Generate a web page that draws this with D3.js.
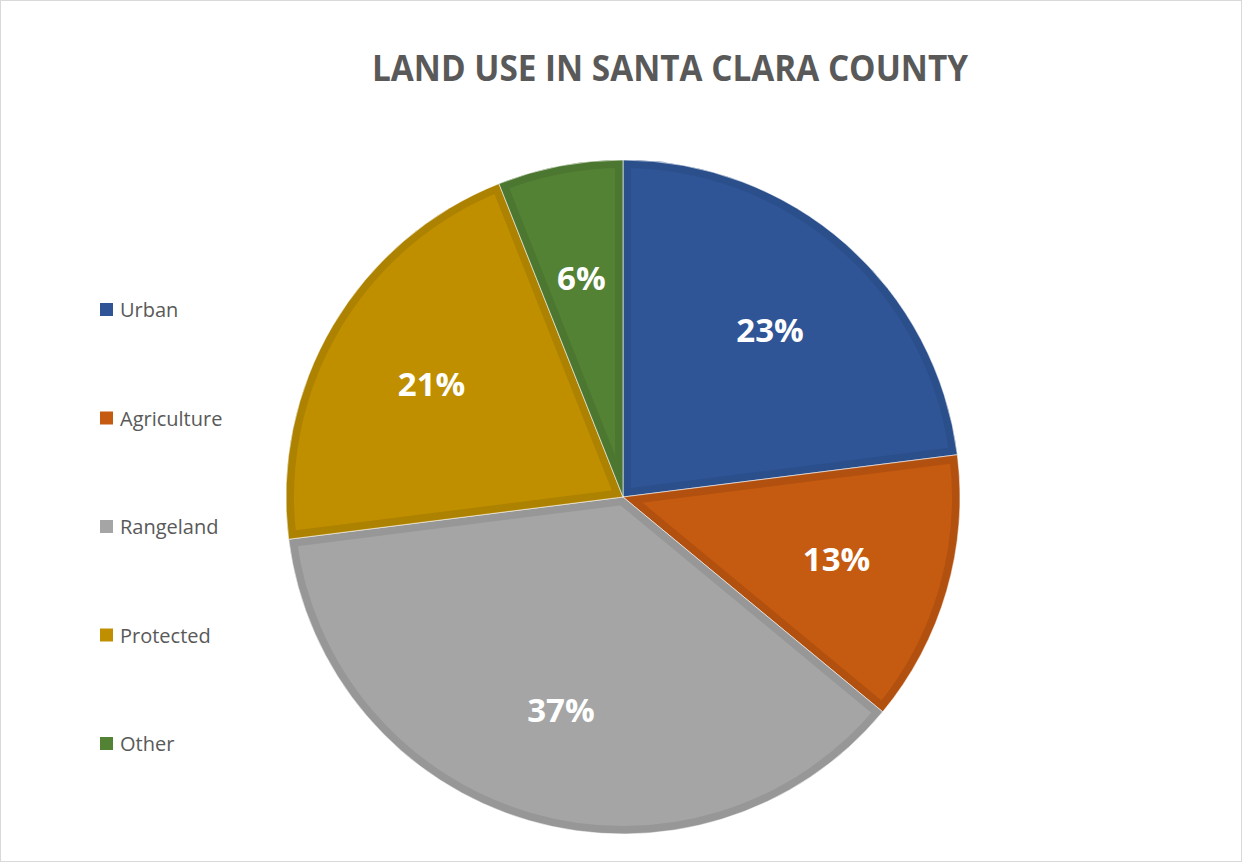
<!DOCTYPE html>
<html>
<head>
<meta charset="utf-8">
<script src="https://cdn.jsdelivr.net/npm/d3@7"></script>
<style>
  html, body { margin: 0; padding: 0; background: #fff; }
</style>
</head>
<body>
<svg id="chart" width="1244" height="864"></svg>
<script>
const categories = ['Urban', 'Agriculture', 'Rangeland', 'Protected', 'Other'];
const shares = [23, 13, 37, 21, 6];
const fillColors = ['#2f5597', '#c55a11', '#a5a5a5', '#bf8f00', '#548235'];
const edgeColors = ['#2b4f8b', '#b2500f', '#979797', '#ad8200', '#4c7730'];
const title = 'LAND USE IN SANTA CLARA COUNTY';

const svg = d3.select('#chart');
const cx = 623, cy = 497, radius = 337;

// light frame round the chart area
svg.append('rect')
  .attr('x', 0.5).attr('y', 0.5)
  .attr('width', 1241).attr('height', 861)
  .attr('fill', '#fff')
  .attr('stroke', '#d9d9d9');

svg.append('text')
  .attr('x', 670)
  .attr('y', 81)
  .attr('text-anchor', 'middle')
  .attr('font-family', 'Open Sans, sans-serif')
  .attr('font-weight', 700)
  .attr('font-size', 35)
  .attr('textLength', 596)
  .attr('lengthAdjust', 'spacingAndGlyphs')
  .attr('fill', '#595959')
  .text(title);

const data = categories.map((c, i) => ({ name: c, value: shares[i], i: i }));

const pie = d3.pie()
  .value(d => d.value)
  .sort(null);

const arc = d3.arc()
  .innerRadius(0)
  .outerRadius(radius);

const labelArc = d3.arc()
  .innerRadius(radius * 0.66)
  .outerRadius(radius * 0.66);

const g = svg.append('g')
  .attr('transform', `translate(${cx},${cy})`);

const arcs = pie(data);

// each slice clips its own stroke so the darker edge sits inside it
const defs = svg.append('defs');
defs.selectAll('clipPath')
  .data(arcs)
  .enter()
    .append('clipPath')
    .attr('id', d => 'slice' + d.data.i)
    .append('path')
    .attr('d', arc);

const slices = g.selectAll('.slice')
  .data(arcs)
  .enter()
    .append('g')
    .attr('class', 'slice');

slices.append('path')
  .attr('d', arc)
  .attr('clip-path', d => `url(#slice${d.data.i})`)
  .style('fill', d => fillColors[d.data.i])
  .style('stroke', d => edgeColors[d.data.i])
  .style('stroke-width', 16)
  .style('stroke-linejoin', 'miter');

slices.append('path')
  .attr('d', arc)
  .style('fill', 'none')
  .style('stroke', 'white')
  .style('stroke-width', 1)
  .style('stroke-opacity', 0.6);

slices.append('text')
  .attr('transform', d => `translate(${labelArc.centroid(d)})`)
  .attr('text-anchor', 'middle')
  .attr('dy', '0.36em')
  .attr('font-family', 'Open Sans, sans-serif')
  .attr('font-weight', 700)
  .attr('font-size', 33)
  .attr('fill', '#fff')
  .text(d => d.data.value + '%');

// legend down the left side
const legendY = d3.scalePoint()
  .domain(categories)
  .range([310, 744]);

const legend = svg.append('g')
  .selectAll('.item')
  .data(categories)
  .enter()
    .append('g')
    .attr('class', 'item')
    .attr('transform', d => `translate(100,${legendY(d)})`);

legend.append('rect')
  .attr('x', 0).attr('y', -7)
  .attr('width', 13).attr('height', 13)
  .style('fill', (d, i) => fillColors[i]);

legend.append('text')
  .attr('x', 20)
  .attr('dy', '0.35em')
  .attr('font-family', 'Open Sans, sans-serif')
  .attr('font-size', 20)
  .attr('fill', '#595959')
  .text(d => d);
</script>
</body>
</html>
